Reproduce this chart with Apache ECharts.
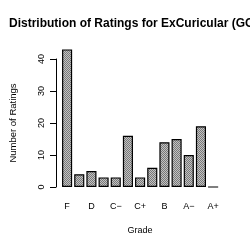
<!DOCTYPE html>
<html>
<head>
<meta charset="utf-8">
<script src="https://cdn.jsdelivr.net/npm/echarts@6/dist/echarts.min.js"></script>
<style>
  html, body { margin: 0; padding: 0; background: #fff; }
  #chart { width: 250px; height: 250px; }
</style>
</head>
<body>
<div id="chart"></div>
<script>
const grades = ['F', 'D−', 'D', 'D+', 'C−', 'C', 'C+', 'B−', 'B', 'B+', 'A−', 'A', 'A+'];
const counts = [43, 4, 5, 3, 3, 16, 3, 6, 14, 15, 10, 19, 0];
const yTicks = [0, 10, 20, 30, 40];

// small checker tile to imitate the shaded fill
const tile = document.createElement('canvas');
tile.width = 2; tile.height = 2;
const tctx = tile.getContext('2d');
tctx.fillStyle = '#c2c2c2'; tctx.fillRect(0, 0, 2, 2);
tctx.fillStyle = '#787878'; tctx.fillRect(0, 0, 1, 1); tctx.fillRect(1, 1, 1, 1);

const chart = echarts.init(document.getElementById('chart'));
const font = 'Liberation Sans, Arial, sans-serif';

chart.setOption({
  animation: false,
  backgroundColor: '#fff',
  title: {
    text: 'Distribution of Ratings for ExCuricular (GCC)',
    left: 4, top: 13,
    textStyle: { fontFamily: font, fontSize: 12, fontWeight: 'bold', color: '#000' }
  },
  grid: { left: 54.5, right: 30.8, top: 59, bottom: 63 },
  xAxis: {
    type: 'category',
    data: grades,
    name: 'Grade',
    nameLocation: 'middle',
    nameGap: 39,
    nameTextStyle: { fontFamily: font, fontSize: 9, color: '#000', verticalAlign: 'top' },
    axisLine: { show: false },
    axisTick: { show: false },
    axisLabel: { interval: 1, margin: 15, fontFamily: font, fontSize: 9, color: '#000' }
  },
  yAxis: {
    type: 'value',
    min: yTicks[0],
    max: yTicks[yTicks.length - 1],
    interval: 10,
    offset: 5,
    name: 'Number of Ratings',
    nameLocation: 'middle',
    nameGap: 38,
    nameRotate: 90,
    nameTextStyle: { fontFamily: font, fontSize: 9.5, color: '#000' },
    splitLine: { show: false },
    axisLine: { show: true, lineStyle: { color: '#000', width: 1 } },
    axisTick: { show: true, length: 6, lineStyle: { color: '#000' } },
    axisLabel: { rotate: 90, margin: 10, fontFamily: font, fontSize: 9, color: '#000' }
  },
  series: [{
    type: 'bar',
    data: counts,
    clip: false,
    barCategoryGap: '17%',
    itemStyle: {
      color: { image: tile, repeat: 'repeat' },
      borderColor: '#000',
      borderWidth: 1.2
    }
  }]
});
</script>
</body>
</html>
